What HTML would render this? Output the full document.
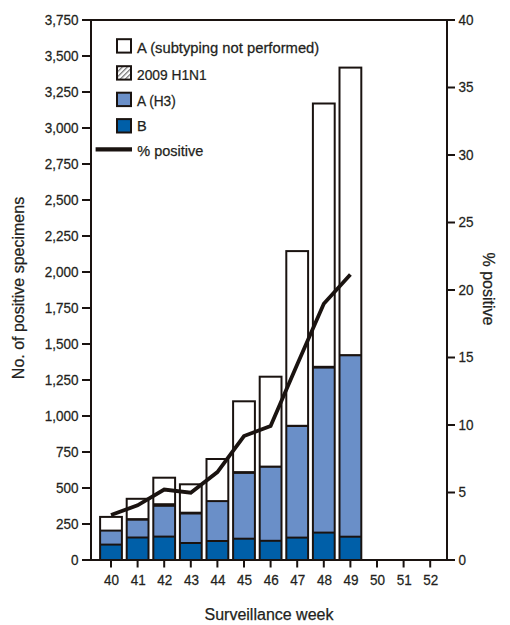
<!DOCTYPE html>
<html><head><meta charset="utf-8"><style>
html,body{margin:0;padding:0;background:#fff;}
svg{display:block;}
.t{font-family:"Liberation Sans",sans-serif;font-size:14.5px;fill:#231f20;stroke:#231f20;stroke-width:0.25px;}
.ti{font-family:"Liberation Sans",sans-serif;font-size:16px;fill:#231f20;stroke:#231f20;stroke-width:0.25px;}
.lg{font-family:"Liberation Sans",sans-serif;font-size:14.5px;fill:#231f20;stroke:#231f20;stroke-width:0.25px;}
</style></head><body>
<svg width="510" height="625" viewBox="0 0 510 625">
<defs>
<pattern id="hatch" patternUnits="userSpaceOnUse" width="3.56" height="4" patternTransform="translate(117.4,66) rotate(45)">
<rect width="3.56" height="4" fill="#fff"/><rect width="1.3" height="4" fill="#7a7a7a"/>
</pattern>
</defs>
<rect width="510" height="625" fill="#fff"/>
<rect x="100.10" y="516.90" width="21.80" height="13.70" fill="#fff"/>
<rect x="100.10" y="530.60" width="21.80" height="14.00" fill="#6a8fc8"/>
<rect x="100.10" y="544.60" width="21.80" height="15.40" fill="#005fa8"/>
<rect x="100.10" y="516.90" width="21.80" height="43.10" fill="none" stroke="#1a1310" stroke-width="2"/>
<line x1="100.10" y1="530.60" x2="121.90" y2="530.60" stroke="#1a1310" stroke-width="2.0"/>
<line x1="100.10" y1="544.60" x2="121.90" y2="544.60" stroke="#1a1310" stroke-width="2"/>
<rect x="126.70" y="498.80" width="21.80" height="20.60" fill="#fff"/>
<rect x="126.70" y="519.40" width="21.80" height="18.10" fill="#6a8fc8"/>
<rect x="126.70" y="537.50" width="21.80" height="22.50" fill="#005fa8"/>
<rect x="126.70" y="498.80" width="21.80" height="61.20" fill="none" stroke="#1a1310" stroke-width="2"/>
<line x1="126.70" y1="519.40" x2="148.50" y2="519.40" stroke="#1a1310" stroke-width="2.6"/>
<line x1="126.70" y1="537.50" x2="148.50" y2="537.50" stroke="#1a1310" stroke-width="2"/>
<rect x="153.30" y="477.70" width="21.80" height="27.30" fill="#fff"/>
<rect x="153.30" y="505.00" width="21.80" height="31.60" fill="#6a8fc8"/>
<rect x="153.30" y="536.60" width="21.80" height="23.40" fill="#005fa8"/>
<rect x="153.30" y="477.70" width="21.80" height="82.30" fill="none" stroke="#1a1310" stroke-width="2"/>
<line x1="153.30" y1="505.00" x2="175.10" y2="505.00" stroke="#1a1310" stroke-width="3.6"/>
<line x1="153.30" y1="536.60" x2="175.10" y2="536.60" stroke="#1a1310" stroke-width="2"/>
<rect x="179.90" y="484.30" width="21.80" height="28.80" fill="#fff"/>
<rect x="179.90" y="513.10" width="21.80" height="29.90" fill="#6a8fc8"/>
<rect x="179.90" y="543.00" width="21.80" height="17.00" fill="#005fa8"/>
<rect x="179.90" y="484.30" width="21.80" height="75.70" fill="none" stroke="#1a1310" stroke-width="2"/>
<line x1="179.90" y1="513.10" x2="201.70" y2="513.10" stroke="#1a1310" stroke-width="2.8"/>
<line x1="179.90" y1="543.00" x2="201.70" y2="543.00" stroke="#1a1310" stroke-width="2"/>
<rect x="206.50" y="459.00" width="21.80" height="42.10" fill="#fff"/>
<rect x="206.50" y="501.10" width="21.80" height="39.90" fill="#6a8fc8"/>
<rect x="206.50" y="541.00" width="21.80" height="19.00" fill="#005fa8"/>
<rect x="206.50" y="459.00" width="21.80" height="101.00" fill="none" stroke="#1a1310" stroke-width="2"/>
<line x1="206.50" y1="501.10" x2="228.30" y2="501.10" stroke="#1a1310" stroke-width="2.0"/>
<line x1="206.50" y1="541.00" x2="228.30" y2="541.00" stroke="#1a1310" stroke-width="2"/>
<rect x="233.10" y="401.30" width="21.80" height="71.20" fill="#fff"/>
<rect x="233.10" y="472.50" width="21.80" height="66.20" fill="#6a8fc8"/>
<rect x="233.10" y="538.70" width="21.80" height="21.30" fill="#005fa8"/>
<rect x="233.10" y="401.30" width="21.80" height="158.70" fill="none" stroke="#1a1310" stroke-width="2"/>
<line x1="233.10" y1="472.50" x2="254.90" y2="472.50" stroke="#1a1310" stroke-width="2.8"/>
<line x1="233.10" y1="538.70" x2="254.90" y2="538.70" stroke="#1a1310" stroke-width="2"/>
<rect x="259.70" y="376.70" width="21.80" height="90.00" fill="#fff"/>
<rect x="259.70" y="466.70" width="21.80" height="74.10" fill="#6a8fc8"/>
<rect x="259.70" y="540.80" width="21.80" height="19.20" fill="#005fa8"/>
<rect x="259.70" y="376.70" width="21.80" height="183.30" fill="none" stroke="#1a1310" stroke-width="2"/>
<line x1="259.70" y1="466.70" x2="281.50" y2="466.70" stroke="#1a1310" stroke-width="2.2"/>
<line x1="259.70" y1="540.80" x2="281.50" y2="540.80" stroke="#1a1310" stroke-width="2"/>
<rect x="286.30" y="251.10" width="21.80" height="174.80" fill="#fff"/>
<rect x="286.30" y="425.90" width="21.80" height="111.70" fill="#6a8fc8"/>
<rect x="286.30" y="537.60" width="21.80" height="22.40" fill="#005fa8"/>
<rect x="286.30" y="251.10" width="21.80" height="308.90" fill="none" stroke="#1a1310" stroke-width="2"/>
<line x1="286.30" y1="425.90" x2="308.10" y2="425.90" stroke="#1a1310" stroke-width="2.2"/>
<line x1="286.30" y1="537.60" x2="308.10" y2="537.60" stroke="#1a1310" stroke-width="2"/>
<rect x="312.90" y="103.50" width="21.80" height="263.70" fill="#fff"/>
<rect x="312.90" y="367.20" width="21.80" height="165.40" fill="#6a8fc8"/>
<rect x="312.90" y="532.60" width="21.80" height="27.40" fill="#005fa8"/>
<rect x="312.90" y="103.50" width="21.80" height="456.50" fill="none" stroke="#1a1310" stroke-width="2"/>
<line x1="312.90" y1="367.20" x2="334.70" y2="367.20" stroke="#1a1310" stroke-width="2.8"/>
<line x1="312.90" y1="532.60" x2="334.70" y2="532.60" stroke="#1a1310" stroke-width="2"/>
<rect x="339.50" y="67.60" width="21.80" height="287.60" fill="#fff"/>
<rect x="339.50" y="355.20" width="21.80" height="181.50" fill="#6a8fc8"/>
<rect x="339.50" y="536.70" width="21.80" height="23.30" fill="#005fa8"/>
<rect x="339.50" y="67.60" width="21.80" height="492.40" fill="none" stroke="#1a1310" stroke-width="2"/>
<line x1="339.50" y1="355.20" x2="361.30" y2="355.20" stroke="#1a1310" stroke-width="2.2"/>
<line x1="339.50" y1="536.70" x2="361.30" y2="536.70" stroke="#1a1310" stroke-width="2"/>
<polyline points="111.00,515.00 137.60,505.30 164.20,489.50 190.80,492.70 217.40,472.10 244.00,436.00 270.60,426.00 297.20,364.50 323.80,303.70 350.40,274.50" fill="none" stroke="#1a1310" stroke-width="3.8" stroke-linejoin="miter"/>
<line x1="91" y1="19" x2="91" y2="561" stroke="#1a1310" stroke-width="2"/>
<line x1="447" y1="19" x2="447" y2="561" stroke="#1a1310" stroke-width="2"/>
<line x1="82" y1="20" x2="455" y2="20" stroke="#1a1310" stroke-width="2"/>
<line x1="82" y1="560" x2="455" y2="560" stroke="#1a1310" stroke-width="2"/>
<line x1="82" y1="560" x2="91" y2="560" stroke="#1a1310" stroke-width="2"/>
<text transform="translate(78.5,564.60) scale(0.9310344827586207,1)" text-anchor="end" class="t">0</text>
<line x1="82" y1="524" x2="91" y2="524" stroke="#1a1310" stroke-width="2"/>
<text transform="translate(78.5,528.60) scale(0.9310344827586207,1)" text-anchor="end" class="t">250</text>
<line x1="82" y1="488" x2="91" y2="488" stroke="#1a1310" stroke-width="2"/>
<text transform="translate(78.5,492.60) scale(0.9310344827586207,1)" text-anchor="end" class="t">500</text>
<line x1="82" y1="452" x2="91" y2="452" stroke="#1a1310" stroke-width="2"/>
<text transform="translate(78.5,456.60) scale(0.9310344827586207,1)" text-anchor="end" class="t">750</text>
<line x1="82" y1="416" x2="91" y2="416" stroke="#1a1310" stroke-width="2"/>
<text transform="translate(78.5,420.60) scale(0.9310344827586207,1)" text-anchor="end" class="t">1,000</text>
<line x1="82" y1="380" x2="91" y2="380" stroke="#1a1310" stroke-width="2"/>
<text transform="translate(78.5,384.60) scale(0.9310344827586207,1)" text-anchor="end" class="t">1,250</text>
<line x1="82" y1="344" x2="91" y2="344" stroke="#1a1310" stroke-width="2"/>
<text transform="translate(78.5,348.60) scale(0.9310344827586207,1)" text-anchor="end" class="t">1,500</text>
<line x1="82" y1="308" x2="91" y2="308" stroke="#1a1310" stroke-width="2"/>
<text transform="translate(78.5,312.60) scale(0.9310344827586207,1)" text-anchor="end" class="t">1,750</text>
<line x1="82" y1="272" x2="91" y2="272" stroke="#1a1310" stroke-width="2"/>
<text transform="translate(78.5,276.60) scale(0.9310344827586207,1)" text-anchor="end" class="t">2,000</text>
<line x1="82" y1="236" x2="91" y2="236" stroke="#1a1310" stroke-width="2"/>
<text transform="translate(78.5,240.60) scale(0.9310344827586207,1)" text-anchor="end" class="t">2,250</text>
<line x1="82" y1="200" x2="91" y2="200" stroke="#1a1310" stroke-width="2"/>
<text transform="translate(78.5,204.60) scale(0.9310344827586207,1)" text-anchor="end" class="t">2,500</text>
<line x1="82" y1="164" x2="91" y2="164" stroke="#1a1310" stroke-width="2"/>
<text transform="translate(78.5,168.60) scale(0.9310344827586207,1)" text-anchor="end" class="t">2,750</text>
<line x1="82" y1="128" x2="91" y2="128" stroke="#1a1310" stroke-width="2"/>
<text transform="translate(78.5,132.60) scale(0.9310344827586207,1)" text-anchor="end" class="t">3,000</text>
<line x1="82" y1="92" x2="91" y2="92" stroke="#1a1310" stroke-width="2"/>
<text transform="translate(78.5,96.60) scale(0.9310344827586207,1)" text-anchor="end" class="t">3,250</text>
<line x1="82" y1="56" x2="91" y2="56" stroke="#1a1310" stroke-width="2"/>
<text transform="translate(78.5,60.60) scale(0.9310344827586207,1)" text-anchor="end" class="t">3,500</text>
<line x1="82" y1="20" x2="91" y2="20" stroke="#1a1310" stroke-width="2"/>
<text transform="translate(78.5,24.60) scale(0.9310344827586207,1)" text-anchor="end" class="t">3,750</text>
<line x1="447" y1="560.0" x2="455" y2="560.0" stroke="#1a1310" stroke-width="2"/>
<text transform="translate(458.5,564.60) scale(0.9310344827586207,1)" class="t">0</text>
<line x1="447" y1="492.5" x2="455" y2="492.5" stroke="#1a1310" stroke-width="2"/>
<text transform="translate(458.5,497.10) scale(0.9310344827586207,1)" class="t">5</text>
<line x1="447" y1="425.0" x2="455" y2="425.0" stroke="#1a1310" stroke-width="2"/>
<text transform="translate(458.5,429.60) scale(0.9310344827586207,1)" class="t">10</text>
<line x1="447" y1="357.5" x2="455" y2="357.5" stroke="#1a1310" stroke-width="2"/>
<text transform="translate(458.5,362.10) scale(0.9310344827586207,1)" class="t">15</text>
<line x1="447" y1="290.0" x2="455" y2="290.0" stroke="#1a1310" stroke-width="2"/>
<text transform="translate(458.5,294.60) scale(0.9310344827586207,1)" class="t">20</text>
<line x1="447" y1="222.5" x2="455" y2="222.5" stroke="#1a1310" stroke-width="2"/>
<text transform="translate(458.5,227.10) scale(0.9310344827586207,1)" class="t">25</text>
<line x1="447" y1="155.0" x2="455" y2="155.0" stroke="#1a1310" stroke-width="2"/>
<text transform="translate(458.5,159.60) scale(0.9310344827586207,1)" class="t">30</text>
<line x1="447" y1="87.5" x2="455" y2="87.5" stroke="#1a1310" stroke-width="2"/>
<text transform="translate(458.5,92.10) scale(0.9310344827586207,1)" class="t">35</text>
<line x1="447" y1="20.0" x2="455" y2="20.0" stroke="#1a1310" stroke-width="2"/>
<text transform="translate(458.5,24.60) scale(0.9310344827586207,1)" class="t">40</text>
<line x1="111.00" y1="560" x2="111.00" y2="567.5" stroke="#1a1310" stroke-width="2"/>
<text transform="translate(111.60,584.6) scale(0.9310344827586207,1)" text-anchor="middle" class="t">40</text>
<line x1="137.60" y1="560" x2="137.60" y2="567.5" stroke="#1a1310" stroke-width="2"/>
<text transform="translate(138.20,584.6) scale(0.9310344827586207,1)" text-anchor="middle" class="t">41</text>
<line x1="164.20" y1="560" x2="164.20" y2="567.5" stroke="#1a1310" stroke-width="2"/>
<text transform="translate(164.80,584.6) scale(0.9310344827586207,1)" text-anchor="middle" class="t">42</text>
<line x1="190.80" y1="560" x2="190.80" y2="567.5" stroke="#1a1310" stroke-width="2"/>
<text transform="translate(191.40,584.6) scale(0.9310344827586207,1)" text-anchor="middle" class="t">43</text>
<line x1="217.40" y1="560" x2="217.40" y2="567.5" stroke="#1a1310" stroke-width="2"/>
<text transform="translate(218.00,584.6) scale(0.9310344827586207,1)" text-anchor="middle" class="t">44</text>
<line x1="244.00" y1="560" x2="244.00" y2="567.5" stroke="#1a1310" stroke-width="2"/>
<text transform="translate(244.60,584.6) scale(0.9310344827586207,1)" text-anchor="middle" class="t">45</text>
<line x1="270.60" y1="560" x2="270.60" y2="567.5" stroke="#1a1310" stroke-width="2"/>
<text transform="translate(271.20,584.6) scale(0.9310344827586207,1)" text-anchor="middle" class="t">46</text>
<line x1="297.20" y1="560" x2="297.20" y2="567.5" stroke="#1a1310" stroke-width="2"/>
<text transform="translate(297.80,584.6) scale(0.9310344827586207,1)" text-anchor="middle" class="t">47</text>
<line x1="323.80" y1="560" x2="323.80" y2="567.5" stroke="#1a1310" stroke-width="2"/>
<text transform="translate(324.40,584.6) scale(0.9310344827586207,1)" text-anchor="middle" class="t">48</text>
<line x1="350.40" y1="560" x2="350.40" y2="567.5" stroke="#1a1310" stroke-width="2"/>
<text transform="translate(351.00,584.6) scale(0.9310344827586207,1)" text-anchor="middle" class="t">49</text>
<line x1="377.00" y1="560" x2="377.00" y2="567.5" stroke="#1a1310" stroke-width="2"/>
<text transform="translate(377.60,584.6) scale(0.9310344827586207,1)" text-anchor="middle" class="t">50</text>
<line x1="403.60" y1="560" x2="403.60" y2="567.5" stroke="#1a1310" stroke-width="2"/>
<text transform="translate(404.20,584.6) scale(0.9310344827586207,1)" text-anchor="middle" class="t">51</text>
<line x1="430.20" y1="560" x2="430.20" y2="567.5" stroke="#1a1310" stroke-width="2"/>
<text transform="translate(430.80,584.6) scale(0.9310344827586207,1)" text-anchor="middle" class="t">52</text>
<text x="269" y="619.5" text-anchor="middle" class="ti">Surveillance week</text>
<text transform="translate(24,288) rotate(-90)" text-anchor="middle" class="ti">No. of positive specimens</text>
<text transform="translate(483,289) rotate(90)" text-anchor="middle" class="ti">% positive</text>
<rect x="117" y="39.20" width="14" height="13.4" fill="#fff" stroke="#1a1310" stroke-width="2"/>
<text transform="translate(137,52.80) scale(1.0197,1)" class="lg">A (subtyping not performed)</text>
<rect x="117" y="66.20" width="14" height="13.4" fill="url(#hatch)" stroke="#1a1310" stroke-width="2"/>
<text transform="translate(137,79.60) scale(0.9514,1)" class="lg">2009 H1N1</text>
<rect x="117" y="92.70" width="14" height="13.4" fill="#6a8fc8" stroke="#1a1310" stroke-width="2"/>
<text transform="translate(137,106.10) scale(0.9450,1)" class="lg">A (H3)</text>
<rect x="117" y="119.10" width="14" height="13.4" fill="#005fa8" stroke="#1a1310" stroke-width="2"/>
<text transform="translate(137,131.00) scale(1.0000,1)" class="lg">B</text>
<line x1="95.6" y1="149.4" x2="132" y2="149.4" stroke="#1a1310" stroke-width="4.4"/>
<text x="137.3" y="155.5" class="lg">% positive</text>
</svg>
</body></html>
